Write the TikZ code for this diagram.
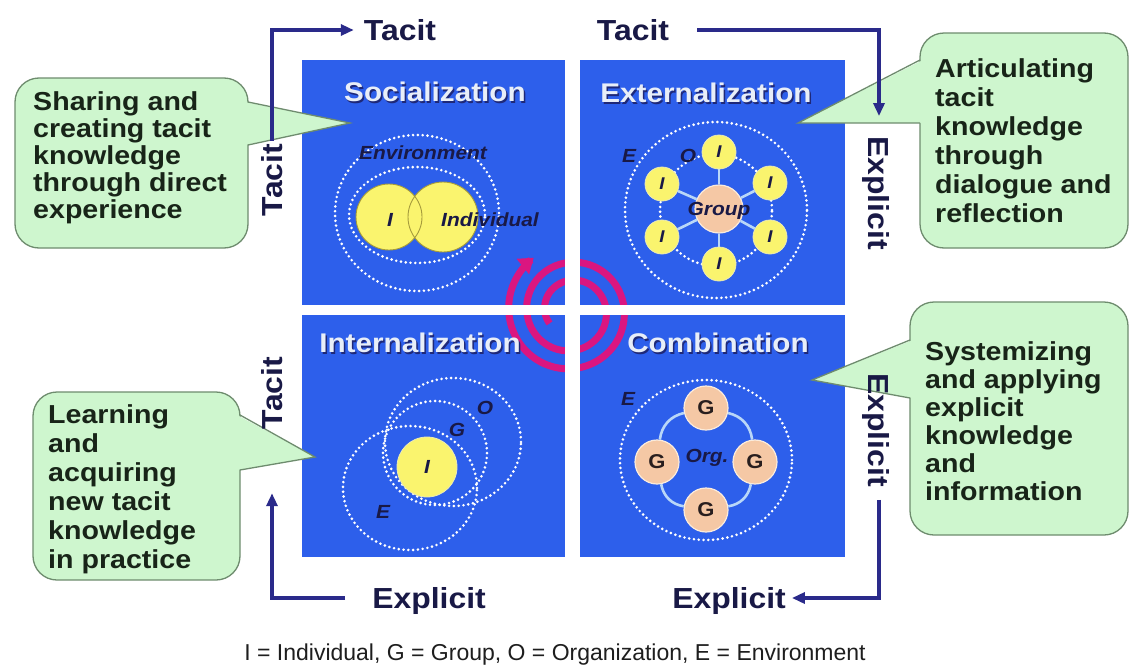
\documentclass[tikz,border=0pt]{standalone}
\usepackage{fontspec}
\setmainfont{Liberation Sans}
\newfontfamily\wsans[FakeStretch=1.1]{Liberation Sans}
\usetikzlibrary{arrows.meta}
\definecolor{qblue}{RGB}{45,95,235}
\definecolor{navy}{RGB}{42,42,138}
\definecolor{inkdark}{RGB}{25,25,70}
\definecolor{cfill}{RGB}{206,246,206}
\definecolor{cdraw}{RGB}{110,140,110}
\definecolor{ctext}{RGB}{24,36,24}
\definecolor{yel}{RGB}{250,244,110}
\definecolor{yeledge}{RGB}{235,235,180}
\definecolor{peach}{RGB}{245,200,165}
\definecolor{peachedge}{RGB}{250,235,220}
\definecolor{mag}{RGB}{218,22,128}
\definecolor{spoke}{RGB}{185,215,248}
\definecolor{titlec}{RGB}{232,238,248}
\definecolor{shadowc}{RGB}{30,40,120}
\definecolor{olivec}{RGB}{165,155,60}
\definecolor{legc}{RGB}{30,30,30}
\definecolor{gtext}{RGB}{40,30,30}
\begin{document}
\begin{tikzpicture}[x=1pt,y=-1pt,
  qbox/.style={fill=qblue},
  titletxt/.style={text=titlec,font=\wsans\bfseries\fontsize{27}{29}\selectfont,inner sep=0pt},
  titleshadow/.style={text=shadowc,font=\wsans\bfseries\fontsize{27}{29}\selectfont,inner sep=0pt},
  axislbl/.style={text=inkdark,font=\wsans\bfseries\fontsize{29}{31}\selectfont,inner sep=0pt,text height=21pt,text depth=0pt},
  flowarrow/.style={draw=navy,line width=3.2pt,-{Triangle[length=13pt,width=11pt]}},
  cbox/.style={fill=cfill,draw=cdraw,line width=1.3pt,rounded corners=24pt},
  cptr/.style={draw=cdraw,line width=1.3pt},
  ctxt/.style={text=ctext,align=left,inner sep=0pt,anchor=north west},
  dotring/.style={draw=white,line width=2.9pt,dash pattern=on 0pt off 4.8pt,line cap=round},
  yelc/.style={circle,fill=yel,draw=yeledge,line width=0.8pt,inner sep=0pt,text=inkdark,font=\wsans\bfseries\itshape\fontsize{17}{18}\selectfont},
  peachc/.style={circle,fill=peach,draw=peachedge,line width=1.2pt,inner sep=0pt,text=gtext,font=\wsans\bfseries\fontsize{20}{22}\selectfont},
  clbl/.style={text=inkdark,font=\wsans\bfseries\itshape\fontsize{19}{20}\selectfont,inner sep=0pt},
  spokeline/.style={draw=spoke,line width=2.6pt},
  spiralpath/.style={draw=mag,line width=7pt,-{Triangle[length=14pt,width=19pt]}},
]
\fill[white] (0,0) rectangle (1133,672);
\useasboundingbox (0,0) rectangle (1133,672);

% quadrants
\fill[qbox] (302,60) rectangle (565,305);
\fill[qbox] (580,60) rectangle (845,305);
\fill[qbox] (302,315) rectangle (565,557);
\fill[qbox] (580,315) rectangle (845,557);

% spiral
\draw[spiralpath] plot[domain=150:955,samples=180,smooth]
  ({571+(65-18*(955-\x)/360)*cos(\x)},{311+(65-18*(955-\x)/360)*sin(\x)});
% white cross over spiral
\fill[white] (565,60) rectangle (580,557);
\fill[white] (302,305) rectangle (845,315);

% titles
\node[titleshadow] at (436.5,93.5) {Socialization};
\node[titletxt] (tsoc) at (435,92) {Socialization};
\node[titleshadow] at (707.5,94.5) {Externalization};
\node[titletxt] (text) at (706,93) {Externalization};
\node[titleshadow] at (421.5,344.5) {Internalization};
\node[titletxt] (tint) at (420,343) {Internalization};
\node[titleshadow] at (719.5,344.5) {Combination};
\node[titletxt] (tcom) at (718,343) {Combination};

% Socialization
\draw[dotring] (417,213) ellipse [x radius=82pt,y radius=78pt];
\draw[dotring] (417,215) ellipse [x radius=68pt,y radius=48pt];
\node[circle,fill=yel,minimum size=66pt,inner sep=0pt] (sI) at (389,217) {};
\node[circle,fill=yel,minimum size=70pt,inner sep=0pt] (sInd) at (443,217) {};
\draw[olivec,line width=0.9pt] (389,217) circle [radius=33pt] (443,217) circle [radius=35pt];
\node[clbl] (senv) at (423,153) {Environment};
\node[clbl] (sIl) at (390,220) {I};
\node[clbl] (sIndl) at (490,220) {Individual};

% Externalization
\draw[dotring] (716,210) ellipse [x radius=91pt,y radius=88pt];
\draw[dotring] (716,210) ellipse [x radius=56pt,y radius=56pt];
\node[peachc,minimum size=48pt] (grp) at (719,209) {};
\node[yelc,minimum size=34pt] (e1) at (719,152) {I};
\node[yelc,minimum size=34pt] (e2) at (770,183) {I};
\node[yelc,minimum size=34pt] (e3) at (770,237) {I};
\node[yelc,minimum size=34pt] (e4) at (719,264) {I};
\node[yelc,minimum size=34pt] (e5) at (662,237) {I};
\node[yelc,minimum size=34pt] (e6) at (662,184) {I};
\foreach \n in {e1,e2,e3,e4,e5,e6} \draw[spokeline] (grp) -- (\n);
\node[clbl] (grpl) at (719,211) {Group};
\node[clbl] (eE) at (629,156) {E};
\node[clbl] (eO) at (688,156) {O};

% Internalization
\draw[dotring] (410,488) ellipse [x radius=67pt,y radius=62pt];
\draw[dotring] (435,453) circle [radius=52pt];
\draw[dotring] (453,442) ellipse [x radius=68pt,y radius=64pt];
\node[yelc,minimum size=60pt,font=\wsans\bfseries\itshape\fontsize{19}{20}\selectfont] (iI) at (427,467) {I};
\node[clbl] (iO) at (485,408) {O};
\node[clbl] (iG) at (457,430) {G};
\node[clbl] (iE) at (383,512) {E};

% Combination
\draw[dotring] (706,460) ellipse [x radius=86pt,y radius=80pt];
\node[peachc,minimum size=44pt] (g1) at (706,408) {G};
\node[peachc,minimum size=44pt] (g2) at (755,462) {G};
\node[peachc,minimum size=44pt] (g3) at (706,510) {G};
\node[peachc,minimum size=44pt] (g4) at (657,462) {G};
\draw[spokeline] (g1) to[bend left=35] (g2);
\draw[spokeline] (g2) to[bend left=35] (g3);
\draw[spokeline] (g3) to[bend left=35] (g4);
\draw[spokeline] (g4) to[bend left=35] (g1);
\node[clbl] (corg) at (707,458) {Org.};
\node[clbl] (cE) at (628,399) {E};

% callouts
\draw[cbox] (15,78) rectangle (248,248);
\fill[cfill] (245,102) -- (350,123) -- (245,145) -- cycle;
\draw[cptr] (248,102) -- (350,123) -- (248,145);
\node[ctxt,font=\wsans\bfseries\fontsize{26}{27}\selectfont] (c1) at (33,91)
  {Sharing and\\creating tacit\\knowledge\\through direct\\experience};

\draw[cbox] (920,33) rectangle (1128,248);
\fill[cfill] (923,60) -- (798,123) -- (923,123) -- cycle;
\draw[cptr] (920,60) -- (798,123) -- (920,123);
\node[ctxt,font=\wsans\bfseries\fontsize{26}{29}\selectfont] (c2) at (935,58)
  {Articulating\\tacit\\knowledge\\through\\dialogue and\\reflection};

\draw[cbox] (33,392) rectangle (240,580);
\fill[cfill] (237,415) -- (315,457) -- (237,470) -- cycle;
\draw[cptr] (240,415) -- (315,457) -- (240,470);
\node[ctxt,font=\wsans\bfseries\fontsize{26}{29}\selectfont] (c3) at (48,404)
  {Learning\\and\\acquiring\\new tacit\\knowledge\\in practice};

\draw[cbox] (910,302) rectangle (1128,535);
\fill[cfill] (913,340) -- (812,380) -- (913,398) -- cycle;
\draw[cptr] (910,340) -- (812,380) -- (910,398);
\node[ctxt,font=\wsans\bfseries\fontsize{26}{28}\selectfont] (c4) at (925,341)
  {Systemizing\\and applying\\explicit\\knowledge\\and\\information};

% axis labels
\node[axislbl] (tTL) at (400,30) {Tacit};
\node[axislbl] (tTR) at (633,30) {Tacit};
\node[axislbl,rotate=90] (tL1) at (272,180) {Tacit};
\node[axislbl,rotate=90] (tL2) at (272,393) {Tacit};
\node[axislbl,rotate=-90] (eR1) at (879,193) {Explicit};
\node[axislbl,rotate=-90] (eR2) at (879,430) {Explicit};
\node[axislbl] (eB1) at (429,598) {Explicit};
\node[axislbl] (eB2) at (729,598) {Explicit};

% arrows
\draw[flowarrow,shorten <=3pt,shorten >=10pt] (tL1.east) |- (tTL.west);
\draw[flowarrow,shorten <=28pt,shorten >=20pt] (tTR.east) -| (eR1.west);
\draw[flowarrow,shorten <=13pt,shorten >=6pt] (eR2.east) |- (eB2.east);
\draw[flowarrow,shorten <=27pt,shorten >=64pt] (eB1.west) -| (tL2.west);

% legend
\node[font=\fontsize{23}{25}\selectfont,text=legc,inner sep=0pt] (legend) at (555,655)
  {I = Individual, G = Group, O = Organization, E = Environment};
\end{tikzpicture}
\end{document}
